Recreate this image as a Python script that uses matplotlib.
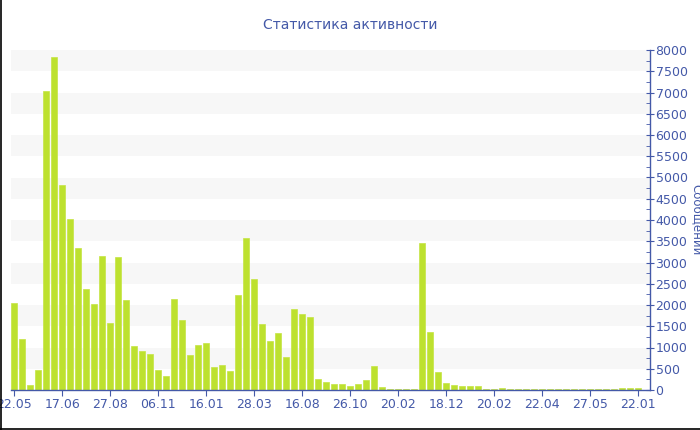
import matplotlib
matplotlib.use("Agg")
import matplotlib.pyplot as plt
from matplotlib.lines import Line2D
from matplotlib.ticker import MultipleLocator

BLUE = "#4459a8"
BAR = "#bde12f"
BAND = "#f7f7f7"

# messages per period (one bar per period)
counts = [
    2040, 1210, 120, 470, 7030, 7830, 4815, 4015, 3335, 2375,
    2025, 3160, 1570, 3120, 2125, 1045, 910, 840, 470, 340,
    2140, 1650, 815, 1060, 1100, 545, 590, 450, 2235, 3570,
    2605, 1545, 1155, 1335, 775, 1900, 1795, 1710, 265, 180,
    140, 140, 100, 135, 225, 575, 70, 24, 30, 24,
    30, 3450, 1360, 430, 155, 110, 95, 95, 95, 24,
    30, 38, 24, 22, 22, 22, 22, 22, 22, 22,
    22, 22, 22, 22, 22, 24, 55, 47, 47,
]
tick_labels = ["22.05", "17.06", "27.08", "06.11", "16.01", "28.03", "16.08",
               "26.10", "20.02", "18.12", "20.02", "22.04", "27.05", "22.01"]
label_step = 6

fig = plt.figure(figsize=(7, 4.3), dpi=100)
ax = fig.add_axes([10.5 / 700, 40 / 430, 639.5 / 700, 340 / 430])

# alternating bands
for lo in range(500, 8000, 1000):
    ax.axhspan(lo, lo + 500, color=BAND, lw=0, zorder=0)

x = list(range(len(counts)))
ax.bar(x, counts, width=0.75, color=BAR, edgecolor="#c6e444", linewidth=0.5, zorder=2)

ax.set_xlim(-0.5, len(counts) + 0.5)
ax.set_ylim(0, 8000)

ax.set_xticks(x[::label_step])
ax.set_xticklabels(tick_labels, fontsize=9, color=BLUE)

ax.yaxis.tick_right()
ax.yaxis.set_major_locator(MultipleLocator(500))
ax.yaxis.set_minor_locator(MultipleLocator(250))
ax.tick_params(axis="y", which="major", direction="inout", length=6, color=BLUE,
               labelcolor=BLUE, labelsize=9, pad=1)
ax.tick_params(axis="y", which="minor", direction="in", length=3, color=BLUE)
ax.tick_params(axis="x", direction="out", length=4, color=BLUE, pad=1.5)

for s in ["top", "left"]:
    ax.spines[s].set_visible(False)
for s in ["bottom", "right"]:
    ax.spines[s].set_color(BLUE)
    ax.spines[s].set_linewidth(1)

fig.text(0.5, 0.942, "Статистика активности", ha="center", va="center",
         fontsize=10, color=BLUE)
fig.text(0.995, 0.488, "Сообщений", rotation=270, ha="center", va="center",
         fontsize=8.5, color=BLUE)

# frame lines at the left and bottom edges
fig.add_artist(Line2D([0.7 / 700, 0.7 / 700], [0, 1], transform=fig.transFigure,
                      color="black", lw=1.2))
fig.add_artist(Line2D([0, 1], [1.5 / 430, 1.5 / 430], transform=fig.transFigure,
                      color="black", lw=1.2))

fig.savefig("out.png", dpi=100, facecolor="white")
